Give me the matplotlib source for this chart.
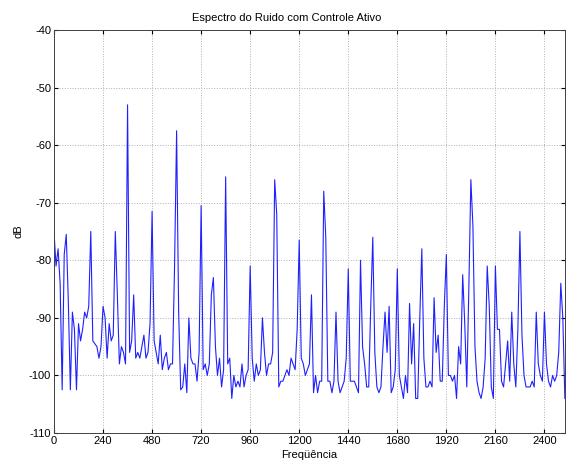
import numpy as np
import matplotlib
matplotlib.use("Agg")
import matplotlib.pyplot as plt

plt.rcParams['font.family'] = ['Liberation Sans', 'DejaVu Sans']
plt.rcParams['axes.unicode_minus'] = False

# spectrum in dB, one value every 10 Hz from 0 to 2500 Hz
df = 10
ruido_db = [
    -75, -81, -78, -84, -102.5, -79, -75.5, -87, -102.5, -89, -92, -102.5,
    -91, -94, -92, -89, -90, -88, -75, -94, -94.5, -95, -97, -95,
    -88, -90, -97, -91, -94, -93, -75, -86, -98, -95, -96, -98,
    -53, -96, -94, -86, -97, -96, -97, -95, -93, -97, -96, -91,
    -71.5, -94, -96, -98, -93, -99, -97, -96, -99, -98, -98, -81,
    -57.5, -89, -102.5, -102, -98, -103, -90, -97, -98, -98, -101, -96,
    -70.5, -99, -98, -100, -98, -86, -83, -95, -100, -97, -102, -99,
    -65.5, -98, -97, -104, -100, -102, -101, -102, -98, -102, -100, -99,
    -81, -97, -101, -98, -100, -99, -90, -96, -100, -98, -98, -96,
    -66, -72, -102, -101, -101, -100, -99, -100, -97, -98, -99, -92,
    -76.5, -97, -98, -100, -99, -98, -86, -103, -100, -103, -101, -101,
    -68, -76, -101, -101, -103, -101, -89, -101, -103, -102, -101, -97,
    -81.5, -101, -101, -101, -102, -103, -80, -95, -98, -102, -102, -88,
    -76, -96, -102, -103, -102, -95, -89, -96, -88, -103, -102, -99,
    -81.5, -100, -102, -104, -100, -103, -87.5, -98, -91, -104, -104, -90,
    -78, -97, -102, -102, -101, -102, -86.5, -96, -93, -101, -101, -88,
    -79, -100, -100, -101, -100, -104, -95, -98, -82.5, -91, -102, -85,
    -66, -74, -95, -101, -103, -104, -102, -97, -81, -88, -102, -104,
    -81, -92, -92, -101, -102, -98, -94, -101, -89, -98, -102, -92,
    -75, -93, -100, -102, -102, -102, -101, -102, -89, -98, -100, -101,
    -89, -98, -101, -102, -100, -101, -100, -96, -84, -90, -104,
]
freq = np.arange(len(ruido_db)) * df

xticks = np.arange(0, 2401, 240)
yticks = np.arange(-110, -39, 10)

fig = plt.figure(figsize=(5.66, 4.66), dpi=100)
ax = fig.add_axes([0.0954, 0.0708, 0.9026, 0.8648])
ax.plot(freq, ruido_db, color='#2020ff', lw=0.8)

ax.set_xlim(0, 2500)
ax.set_ylim(-110, -40)
ax.set_xticks(xticks)
ax.set_yticks(yticks)
ax.grid(True, linestyle=':', color='#b0b0b0', linewidth=0.7)
ax.tick_params(direction='in', length=3, top=True, right=True, labelsize=8, pad=2)
for s in ax.spines.values():
    s.set_linewidth(0.7)
    s.set_color('#404040')

ax.text(0.455, 1.018, 'Espectro do Ruido com Controle Ativo', transform=ax.transAxes,
        ha='center', va='bottom', fontsize=8)
ax.set_xlabel('Freqüência', fontsize=8, labelpad=3)
ax.set_ylabel('dB', fontsize=8, labelpad=4)

fig.savefig('out.png', dpi=100)
